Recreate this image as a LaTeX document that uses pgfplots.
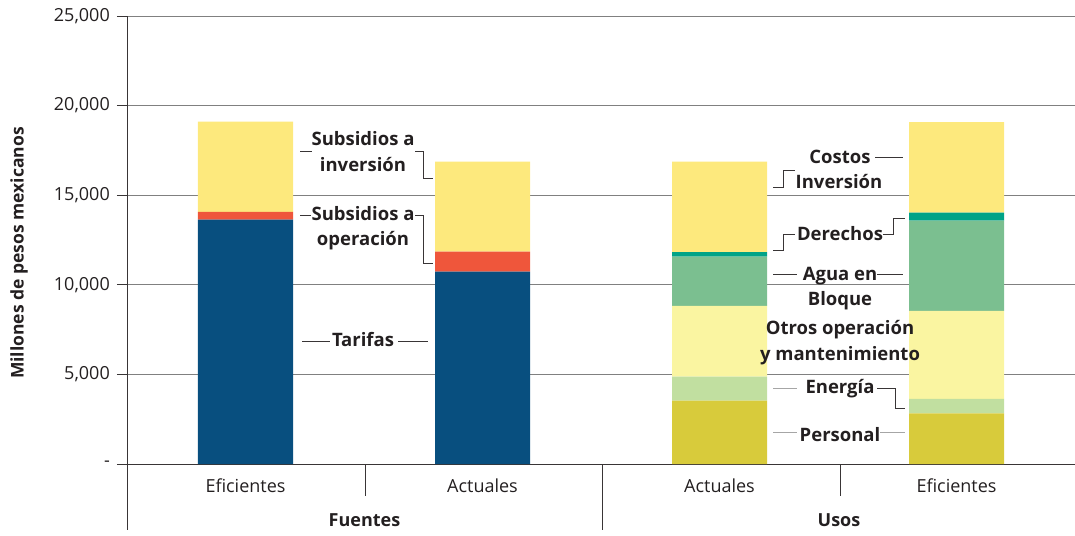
\documentclass[border=0pt]{standalone}
\usepackage{fontspec}
\setmainfont{Open Sans}
\usepackage{pgfplots}
\pgfplotsset{compat=1.18}

\definecolor{tarifa}{HTML}{084F7F}
\definecolor{subop}{HTML}{EF563B}
\definecolor{inv}{HTML}{FDE97D}
\definecolor{derechos}{HTML}{00A387}
\definecolor{agua}{HTML}{7BBF90}
\definecolor{otros}{HTML}{FAF5A1}
\definecolor{energia}{HTML}{C1DFA0}
\definecolor{personal}{HTML}{D8CB3B}
\definecolor{ink}{HTML}{231F20}

\begin{document}
\fontsize{18}{21}\selectfont
\begin{tikzpicture}
\begin{axis}[
    scale only axis, width=948pt, height=448pt,
    xmin=-0.5, xmax=3.5, ymin=0, ymax=25000,
    ybar stacked, bar width=95pt,
    axis x line*=bottom, axis y line*=left,
    axis line style={draw=ink!90, line width=0.9pt},
    scaled y ticks=false,
    ytick={0,5000,10000,15000,20000,25000},
    yticklabels={\mbox{-},\mbox{5,000},\mbox{10,000},\mbox{15,000},\mbox{20,000},\mbox{25,000}},
    tick align=outside, major tick length=10pt,
    ytick style={draw=ink!90, line width=0.9pt},
    yticklabel style={xshift=-1pt},
    xtick={0,1,2,3},
    xticklabels={Eficientes,Actuales,Actuales,Eficientes},
    xticklabel style={font=\fontsize{18}{21}\selectfont, yshift=1pt},
    xtick style={draw=none},
    ticklabel style={text=ink},
    ymajorgrids, grid style={black!50, line width=0.9pt},
    clip=false,
]
% Fuentes
\addplot[fill=tarifa, draw=none] coordinates {(0,13630) (1,10730) (2,0) (3,0)};
\addplot[fill=subop, draw=none] coordinates {(0,440) (1,1120) (2,0) (3,0)};
\addplot[fill=inv, draw=none] coordinates {(0,5030) (1,5020) (2,0) (3,0)};
% Usos
\addplot[fill=personal, draw=none] coordinates {(0,0) (1,0) (2,3530) (3,2830)};
\addplot[fill=energia, draw=none] coordinates {(0,0) (1,0) (2,1340) (3,800)};
\addplot[fill=otros, draw=none] coordinates {(0,0) (1,0) (2,3950) (3,4910)};
\addplot[fill=agua, draw=none] coordinates {(0,0) (1,0) (2,2750) (3,5040)};
\addplot[fill=derechos, draw=none] coordinates {(0,0) (1,0) (2,260) (3,450)};
\addplot[fill=inv, draw=none] coordinates {(0,0) (1,0) (2,5040) (3,5050)};
\end{axis}

% annotations in pixel coordinates of the reference
\begin{scope}[shift={(current axis.south west)}, xshift=-127pt, yshift=464pt, x=1pt, y=-1pt]
  \draw[ink!90, line width=0.9pt] (127,464) -- (127,530);
  \draw[ink!90, line width=0.9pt] (365,464) -- (365,496);
  \draw[ink!90, line width=0.9pt] (602,464) -- (602,530);
  \draw[ink!90, line width=0.9pt] (840,464) -- (840,496);

  \node[rotate=90, font=\fontsize{17.5}{21}\bfseries, text=ink] at (19,253) {Millones de pesos mexicanos};
  \node[font=\fontsize{18}{21}\bfseries, text=ink, anchor=base] at (364.5,526) {Fuentes};
  \node[font=\fontsize{18}{21}\bfseries, text=ink, anchor=base] at (839,526) {Usos};

  \begin{scope}[every node/.style={anchor=base, font=\fontsize{18.5}{22}\bfseries, text=ink, inner sep=0pt}]
    \node at (363,146) {Subsidios a};
    \node at (363,172) {inversión};
    \node at (363,221) {Subsidios a};
    \node at (363,246) {operación};
    \node at (363,347) {Tarifas};

    \node at (840,164) {Costos};
    \node at (839,189) {Inversión};
    \node at (840,241) {Derechos};
    \node at (840,281) {Agua en};
    \node at (840,306) {Bloque};
    \node at (840,335) {Otros operación};
    \node at (840,361) {y mantenimiento};
    \node at (840,394) {Energía};
    \node at (840,441) {Personal};
  \end{scope}

  \begin{scope}[ink!90, line width=0.8pt]
    \draw (300,151.7) -- (312,151.7);
    \draw (415,151.7) -- (423,151.7) -- (423,178) -- (433,178);
    \draw (300,215) -- (311,215);
    \draw (415,215) -- (423,215) -- (423,263) -- (433,263);
    \draw (302,341) -- (330,341);
    \draw (398,341) -- (428,341);

    \draw (875,157) -- (903,157);
    \draw (773,187) -- (783,187) -- (783,170) -- (795,170);
    \draw (773,250) -- (783,250) -- (783,234) -- (795,234);
    \draw (883,234) -- (893,234) -- (893,218) -- (905,218);
    \draw (773,274) -- (797,274);
    \draw (877,274) -- (903,274);
    \draw (877,388) -- (895,388) -- (895,408) -- (905,408);
  \end{scope}
  \begin{scope}[black!35, line width=0.8pt]
    \draw (773,388) -- (797,388);
    \draw (773,432) -- (797,432);
    \draw (880,432) -- (905,432);
  \end{scope}

  \pgfresetboundingbox
  \path (0,0) rectangle (1075,535);
\end{scope}
\end{tikzpicture}
\end{document}
